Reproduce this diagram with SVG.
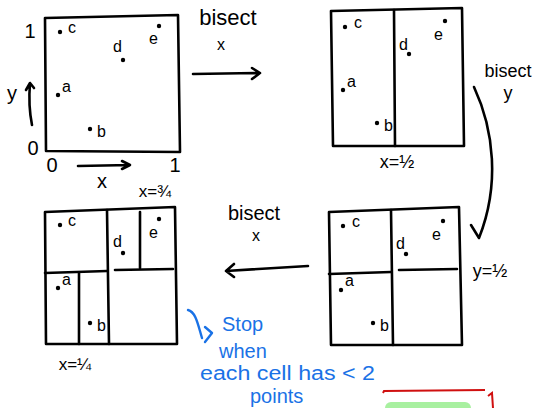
<svg xmlns="http://www.w3.org/2000/svg" width="538" height="408" viewBox="0 0 538 408">
<style>
.ln{fill:none;stroke:#000;stroke-width:2.6;stroke-linecap:round;stroke-linejoin:round}
.bl{fill:none;stroke:#1a72e6;stroke-width:2.4;stroke-linecap:round;stroke-linejoin:round}
.t{font-family:"Liberation Sans",Arial,sans-serif;fill:#000}
.pt{font-family:"Liberation Sans",Arial,sans-serif;font-size:16px;fill:#000}
.bt{font-family:"Liberation Sans",Arial,sans-serif;font-size:20px;fill:#1a72e6}
.d{fill:#000}
</style>
<rect width="538" height="408" fill="#fff"/>
<defs>
<g id="pts">
<circle class="d" cx="0" cy="0" r="2.2"/>
</g>
</defs>

<g id="panel1">
<path class="ln" d="M45,18 L178,15 L180,152 L46,151 Z"/>
<text class="t" x="30" y="38" font-size="20" text-anchor="middle">1</text>
<text class="t" x="33" y="155" font-size="20" text-anchor="middle">0</text>
<text class="t" x="52" y="172" font-size="20" text-anchor="middle">0</text>
<text class="t" x="175" y="172" font-size="20" text-anchor="middle">1</text>
<text class="t" x="102" y="188" font-size="20" text-anchor="middle">x</text>
<text class="t" x="12" y="100" font-size="20" text-anchor="middle">y</text>
<use href="#pts" x="60" y="32"/><text class="pt" x="68" y="33">c</text>
<use href="#pts" x="159" y="26"/><text class="pt" x="149" y="44">e</text>
<text class="pt" x="113" y="52">d</text><use href="#pts" x="123" y="60"/>
<use href="#pts" x="58" y="95"/><text class="pt" x="62" y="92">a</text>
<use href="#pts" x="90" y="129"/><text class="pt" x="97" y="137">b</text>
</g>

<g id="panel2">
<path class="ln" d="M331,11 L462,8 L464,146 L333,146 Z"/>
<path class="ln" d="M394,10 L395,146"/>
<text class="t" x="397" y="168" font-size="18" text-anchor="middle">x=½</text>
<use href="#pts" x="345" y="27"/><text class="pt" x="354" y="28">c</text>
<use href="#pts" x="445" y="21"/><text class="pt" x="434" y="40">e</text>
<text class="pt" x="399" y="50">d</text><use href="#pts" x="409" y="54"/>
<use href="#pts" x="343" y="90"/><text class="pt" x="347" y="87">a</text>
<use href="#pts" x="377" y="123"/><text class="pt" x="384" y="131">b</text>
</g>

<g id="panel3">
<path class="ln" d="M329,212 L459,207 L462,345 L331,345 Z"/>
<path class="ln" d="M391,210 L393,345"/>
<path class="ln" d="M329,274 L391,272"/>
<path class="ln" d="M399,270 L457,269"/>
<text class="t" x="490" y="277" font-size="18" text-anchor="middle">y=½</text>
<use href="#pts" x="343" y="226"/><text class="pt" x="352" y="227">c</text>
<use href="#pts" x="443" y="221"/><text class="pt" x="432" y="240">e</text>
<text class="pt" x="396" y="249">d</text><use href="#pts" x="406" y="254"/>
<use href="#pts" x="341" y="290"/><text class="pt" x="345" y="286">a</text>
<use href="#pts" x="373" y="323"/><text class="pt" x="380" y="331">b</text>
</g>

<g id="panel4">
<path class="ln" d="M45,212 L175,207 L177,344 L46,344 Z"/>
<path class="ln" d="M107,210 L109,344"/>
<path class="ln" d="M45,273 L107,271"/>
<path class="ln" d="M79,273 L79,344"/>
<path class="ln" d="M115,270 L173,269"/>
<path class="ln" d="M140,212 L140,268"/>
<text class="t" x="155" y="197" font-size="17" text-anchor="middle">x=¾</text>
<text class="t" x="75" y="370" font-size="17" text-anchor="middle">x=¼</text>
<use href="#pts" x="60" y="225"/><text class="pt" x="68" y="226">c</text>
<use href="#pts" x="159" y="219"/><text class="pt" x="149" y="238">e</text>
<text class="pt" x="113" y="247">d</text><use href="#pts" x="123" y="253"/>
<use href="#pts" x="58" y="288"/><text class="pt" x="62" y="285">a</text>
<use href="#pts" x="90" y="323"/><text class="pt" x="97" y="331">b</text>
</g>

<g id="connectors">
<path class="ln" d="M78,166 L130,165 M122,161 L130,165 L122,169"/>
<path class="ln" d="M32,125 C29,110 29,95 30,83 M26,90 L30,83 L34,88"/>
<path class="ln" d="M193,74 L260,73 M252,68 L260,73 L252,79"/>
<path class="ln" d="M474,87 C494,130 500,185 479,238 M471,225 L479,238"/>
<path class="ln" d="M308,266 L226,271 M234,264 L226,271 L234,277"/>
</g>

<g id="labels">
<text class="t" x="228" y="25" font-size="22" text-anchor="middle">bisect</text>
<text class="t" x="221" y="50" font-size="16" text-anchor="middle">x</text>
<text class="t" x="508" y="77" font-size="18" text-anchor="middle">bisect</text>
<text class="t" x="508" y="99" font-size="18" text-anchor="middle">y</text>
<text class="t" x="254" y="220" font-size="20" text-anchor="middle">bisect</text>
<text class="t" x="256" y="241" font-size="16" text-anchor="middle">x</text>
</g>

<g id="note">
<path class="bl" d="M188,310 C196,312 198,325 202,338 M205,327 L212,333 L205,342"/>
<text class="bt" x="222" y="331">Stop</text>
<text class="bt" x="219" y="358">when</text>
<text class="bt" x="200" y="380" textLength="175" lengthAdjust="spacingAndGlyphs">each cell has &lt; 2</text>
<text class="bt" x="250" y="403">points</text>
</g>

<g id="partial">
<path d="M383,393 L384,391 L485,390 M488,396 L492,393 L493,408" fill="none" stroke="#d01010" stroke-width="2"/>
<rect x="385" y="402" width="86" height="14" rx="6" fill="#a8f0a0"/>
</g>
</svg>
